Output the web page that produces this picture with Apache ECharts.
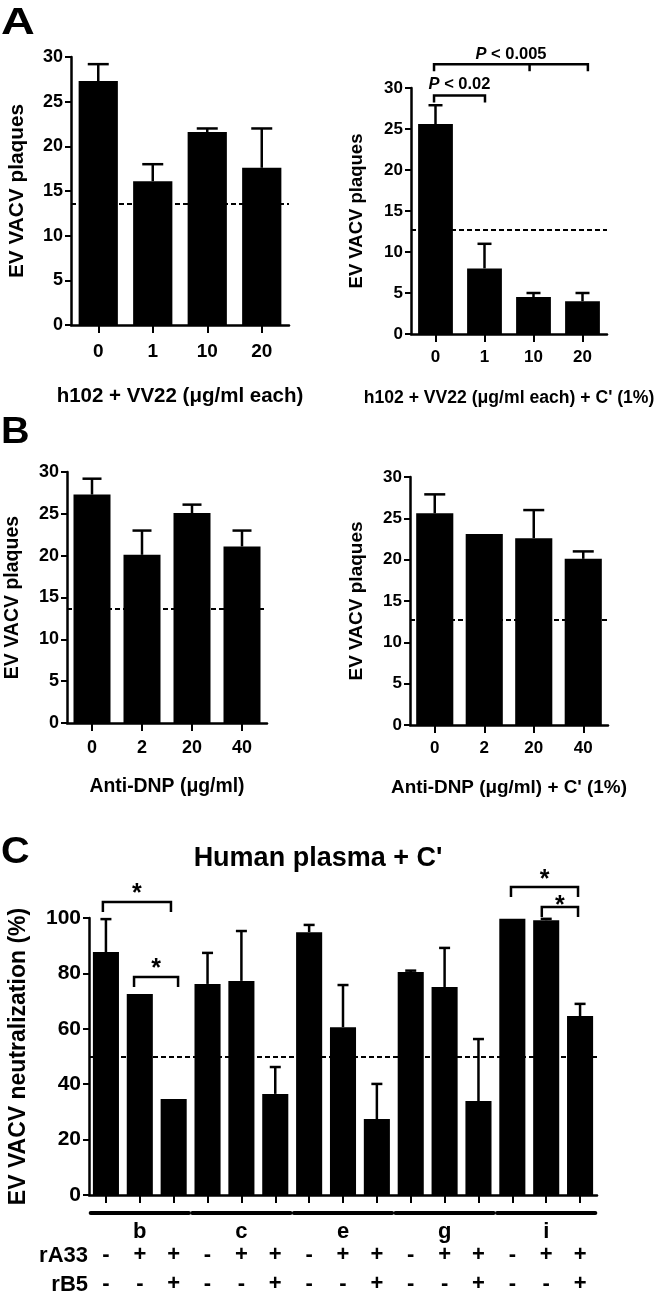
<!DOCTYPE html>
<html><head><meta charset="utf-8">
<script src="https://cdn.jsdelivr.net/npm/echarts@6/dist/echarts.min.js"></script>
<style>html,body{margin:0;padding:0;background:#fff}#c{width:666px;height:1296px}</style>
</head><body><div id="c"></div>
<script>
// ---------------- data ----------------
const aCategories = ['0', '1', '10', '20'];
const aLeftMeans = [27.3, 16.1, 21.6, 17.6];
const aLeftErrTops = [29.2, 18.0, 22.0, 22.0];
const aLeftCutoff = 13.6;
const aRightMeans = [25.6, 8.0, 4.5, 4.0];
const aRightErrTops = [27.9, 11.0, 5.0, 5.0];
const aRightCutoff = 12.7;
const aRightBrackets = [
  { from: -0.03, to: 1.01, y: 29.1, label: '< 0.02' },
  { from: -0.03, to: 3.11, mid: 1.92, y: 32.9, label: '< 0.005' }
];

const bCategories = ['0', '2', '20', '40'];
const bLeftMeans = [27.3, 20.1, 25.1, 21.1];
const bLeftErrTops = [29.2, 23.0, 26.1, 23.0];
const bLeftCutoff = 13.6;
const bRightMeans = [25.6, 23.1, 22.6, 20.1];
const bRightErrTops = [27.9, null, 26.0, 21.0];
const bRightCutoff = 12.7;

const plaqueTicks = [0, 5, 10, 15, 20, 25, 30];

const cGroups = ['b', 'c', 'e', 'g', 'i'];
const cRA33 = ['-', '+', '+', '-', '+', '+', '-', '+', '+', '-', '+', '+', '-', '+', '+'];
const cRB5 = ['-', '-', '+', '-', '-', '+', '-', '-', '+', '-', '-', '+', '-', '-', '+'];
const cMeans = [87.7, 72.6, 34.7, 76.2, 77.3, 36.5, 94.9, 60.6, 27.4, 80.5, 75.1, 33.9, 99.7, 99.2, 64.6];
const cErrTops = [99.6, null, null, 87.4, 95.3, 46.2, 97.5, 75.8, 40.1, 81.0, 89.2, 56.3, null, 99.7, 69.0];
const cCutoff = 50;
const cBrackets = [
  { from: -0.09, to: 1.92, y: 105.8, label: '*' },
  { from: 0.83, to: 2.13, y: 78.7, label: '*' },
  { from: 11.96, to: 13.94, y: 111.2, label: '*' },
  { from: 12.87, to: 13.94, y: 104.0, label: '*' }
];
const percentTicks = [0, 20, 40, 60, 80, 100];

// ---------------- derived ----------------
const cCategories = cGroups.flatMap(g => [g + '1', g + '2', g + '3']);
const cGroupSlots = cGroups.flatMap(g => ['', g, '']);

const FF = "'Liberation Sans', Arial, Helvetica, sans-serif";
const BLACK = '#000';

function yAxisCfg(grid, ticks, name, fs, nameFs, gap) {
  return {
    type: 'value', gridIndex: grid, min: ticks[0], max: ticks[ticks.length - 1],
    interval: ticks[1] - ticks[0],
    name: name, nameLocation: 'middle', nameGap: gap,
    nameTextStyle: { fontFamily: FF, fontWeight: 'bold', fontSize: nameFs, color: BLACK },
    axisLine: { show: true, lineStyle: { color: BLACK, width: 2.5 } },
    axisTick: { show: true, length: 6, lineStyle: { color: BLACK, width: 2 } },
    axisLabel: { fontFamily: FF, fontWeight: 'bold', fontSize: fs, color: BLACK, margin: 8 },
    splitLine: { show: false }
  };
}
function xAxisCfg(grid, cats, name, fs, nameFs, margin, gap) {
  return {
    type: 'category', gridIndex: grid, data: cats,
    name: name, nameLocation: 'middle', nameGap: gap,
    nameTextStyle: { fontFamily: FF, fontWeight: 'bold', fontSize: nameFs, color: BLACK },
    axisLine: { show: true, onZero: false, lineStyle: { color: BLACK, width: 2.5 } },
    axisTick: { show: true, alignWithLabel: true, length: 8, lineStyle: { color: BLACK, width: 2 } },
    axisLabel: { show: !!fs, interval: 0, fontFamily: FF, fontWeight: 'bold', fontSize: fs || 12, color: BLACK, margin: margin },
    splitLine: { show: false }
  };
}
function barSeries(axis, values, width, cutoff) {
  return {
    type: 'bar', xAxisIndex: axis, yAxisIndex: axis, data: values, barWidth: width,
    itemStyle: { color: BLACK }, silent: true,
    markLine: {
      silent: true, symbol: ['none', 'none'], label: { show: false },
      lineStyle: { color: BLACK, width: 2, type: [5, 3] },
      data: [{ yAxis: cutoff }]
    }
  };
}
function errorSeries(axis, means, tops, cap) {
  const data = [];
  means.forEach((m, i) => { if (tops[i] != null) data.push([i, m, tops[i]]); });
  return {
    type: 'custom', xAxisIndex: axis, yAxisIndex: axis, data: data, silent: true, z: 3,
    encode: { x: 0, y: [1, 2] },
    renderItem: function (params, api) {
      const p0 = api.coord([api.value(0), api.value(1)]);
      const p1 = api.coord([api.value(0), api.value(2)]);
      return {
        type: 'group', children: [
          { type: 'line', shape: { x1: p0[0], y1: p0[1], x2: p1[0], y2: p1[1] }, style: { stroke: BLACK, lineWidth: 2.5 } },
          { type: 'line', shape: { x1: p1[0] - cap / 2, y1: p1[1], x2: p1[0] + cap / 2, y2: p1[1] }, style: { stroke: BLACK, lineWidth: 2.5 } }
        ]
      };
    }
  };
}
function bracketSeries(axis, list, opt) {
  return {
    type: 'custom', xAxisIndex: axis, yAxisIndex: axis, clip: false, silent: true, z: 5,
    data: list.map(b => [0, b.y]),
    encode: { x: 0, y: 1 },
    renderItem: function (params, api) {
      const b = list[params.dataIndex];
      const band = api.size([1, 0])[0];
      const xAt = f => { const i = Math.round(f); return api.coord([i, 0])[0] + (f - i) * band; };
      const y = api.coord([0, b.y])[1];
      const x1 = xAt(b.from), x2 = xAt(b.to);
      const kids = [{
        type: 'polyline',
        shape: { points: [[x1, y + opt.leg], [x1, y], [x2, y], [x2, y + opt.leg]] },
        style: { stroke: BLACK, lineWidth: 2.5, fill: 'none' }
      }];
      if (b.mid != null) {
        const xm = xAt(b.mid);
        kids.push({ type: 'line', shape: { x1: xm, y1: y, x2: xm, y2: y + opt.leg }, style: { stroke: BLACK, lineWidth: 2.5 } });
      }
      const lift = opt.lift[params.dataIndex];
      kids.push({
        type: 'text',
        style: {
          text: opt.italicP ? '{i|P} ' + b.label : b.label,
          x: (x1 + x2) / 2, y: y - lift,
          align: 'center', verticalAlign: 'middle', textAlign: 'center', textVerticalAlign: 'middle',
          font: 'bold ' + opt.fs + 'px ' + FF, fill: BLACK,
          rich: { i: { fontStyle: 'italic', fontWeight: 'bold', fontSize: opt.fs, fontFamily: FF } }
        }
      });
      return { type: 'group', children: kids };
    }
  };
}

const chart = echarts.init(document.getElementById('c'), null, { renderer: 'canvas' });

const grids = [
  { left: 71, top: 57, width: 218, height: 268 },
  { left: 411, top: 88, width: 196, height: 246 },
  { left: 67, top: 472, width: 200, height: 251 },
  { left: 410, top: 477, width: 198, height: 248 },
  { left: 89, top: 918, width: 508, height: 277 }
].map(g => Object.assign({ outerBoundsMode: 'none', containLabel: false }, g));

const xAxes = [
  xAxisCfg(0, aCategories, 'h102 + VV22 (\u03bcg/ml each)', 19, 20.5, 17, 61),
  xAxisCfg(1, aCategories, 'h102 + VV22 (\u03bcg/ml each) + C\' (1%)', 17, 17.6, 15, 55),
  xAxisCfg(2, bCategories, 'Anti-DNP (\u03bcg/ml)', 18, 19.4, 16, 54),
  xAxisCfg(3, bCategories, 'Anti-DNP (\u03bcg/ml) + C\' (1%)', 17, 18.9, 15, 53),
  xAxisCfg(4, cCategories, '', 0, 12, 10, 10)
];
function rowAxis(cats, margin) {
  return {
    type: 'category', gridIndex: 4, data: cats, position: 'bottom',
    axisLine: { show: false }, axisTick: { show: false }, splitLine: { show: false },
    axisLabel: { interval: 0, fontFamily: FF, fontWeight: 'bold', fontSize: 22, color: BLACK, margin: margin }
  };
}
xAxes.push(rowAxis(cGroupSlots, 26));
xAxes.push(rowAxis(cRA33, 49));
xAxes.push(rowAxis(cRB5, 78));

const yAxes = [
  yAxisCfg(0, plaqueTicks, 'EV VACV plaques', 18, 20.8, 43),
  yAxisCfg(1, plaqueTicks, 'EV VACV plaques', 17, 18.5, 45),
  yAxisCfg(2, plaqueTicks, 'EV VACV plaques', 18, 19.5, 44),
  yAxisCfg(3, plaqueTicks, 'EV VACV plaques', 17, 19, 44),
  yAxisCfg(4, percentTicks, 'EV VACV neutralization (%)', 21, 23, 59)
];

// group underlines in panel C
const groupLineSeries = {
  type: 'custom', xAxisIndex: 4, yAxisIndex: 4, clip: false, silent: true,
  data: cGroups.map((g, i) => [i * 3, 0]),
  encode: { x: 0, y: 1 },
  renderItem: function (params, api) {
    const band = api.size([1, 0])[0];
    const i0 = api.value(0);
    const base = api.coord([i0, 0]);
    const xs = base[0] - band / 2 + 0.05 * band;
    const xe = api.coord([i0 + 2, 0])[0] + band / 2 - 0.05 * band;
    const y = base[1] + 18;
    return { type: 'line', shape: { x1: xs, y1: y, x2: xe, y2: y }, style: { stroke: BLACK, lineWidth: 4, lineCap: 'round' } };
  }
};

const series = [
  barSeries(0, aLeftMeans, '72%', aLeftCutoff),
  errorSeries(0, aLeftMeans, aLeftErrTops, 21),
  barSeries(1, aRightMeans, '71%', aRightCutoff),
  errorSeries(1, aRightMeans, aRightErrTops, 14),
  bracketSeries(1, aRightBrackets, { leg: 7, fs: 16.5, lift: [11, 10], italicP: true }),
  barSeries(2, bLeftMeans, '74%', bLeftCutoff),
  errorSeries(2, bLeftMeans, bLeftErrTops, 19),
  barSeries(3, bRightMeans, '75%', bRightCutoff),
  errorSeries(3, bRightMeans, bRightErrTops, 21),
  barSeries(4, cMeans, '77%', cCutoff),
  errorSeries(4, cMeans, cErrTops, 11),
  bracketSeries(4, cBrackets, { leg: 10, fs: 25, lift: [8, 8, 7, 1], italicP: false }),
  groupLineSeries
];

function label(text, x, y, fs, align, scaleX) {
  return {
    type: 'text', x: x, y: y, scaleX: scaleX || 1, silent: true,
    style: {
      text: text, x: 0, y: 0, font: 'bold ' + fs + 'px ' + FF, fill: BLACK,
      align: align, verticalAlign: 'middle', textAlign: align, textVerticalAlign: 'middle'
    }
  };
}

chart.setOption({
  animation: false,
  backgroundColor: '#fff',
  grid: grids,
  xAxis: xAxes,
  yAxis: yAxes,
  series: series,
  graphic: [
    label('A', 1, 24, 36, 'left', 1.3),
    label('B', 1, 433, 36, 'left', 1.1),
    label('C', 1, 853, 36, 'left', 1.1),
    label('Human plasma + C\'', 318, 859, 27, 'center'),
    label('rA33', 88, 1256, 22, 'right'),
    label('rB5', 88, 1285, 22, 'right')
  ]
});
</script></body></html>
